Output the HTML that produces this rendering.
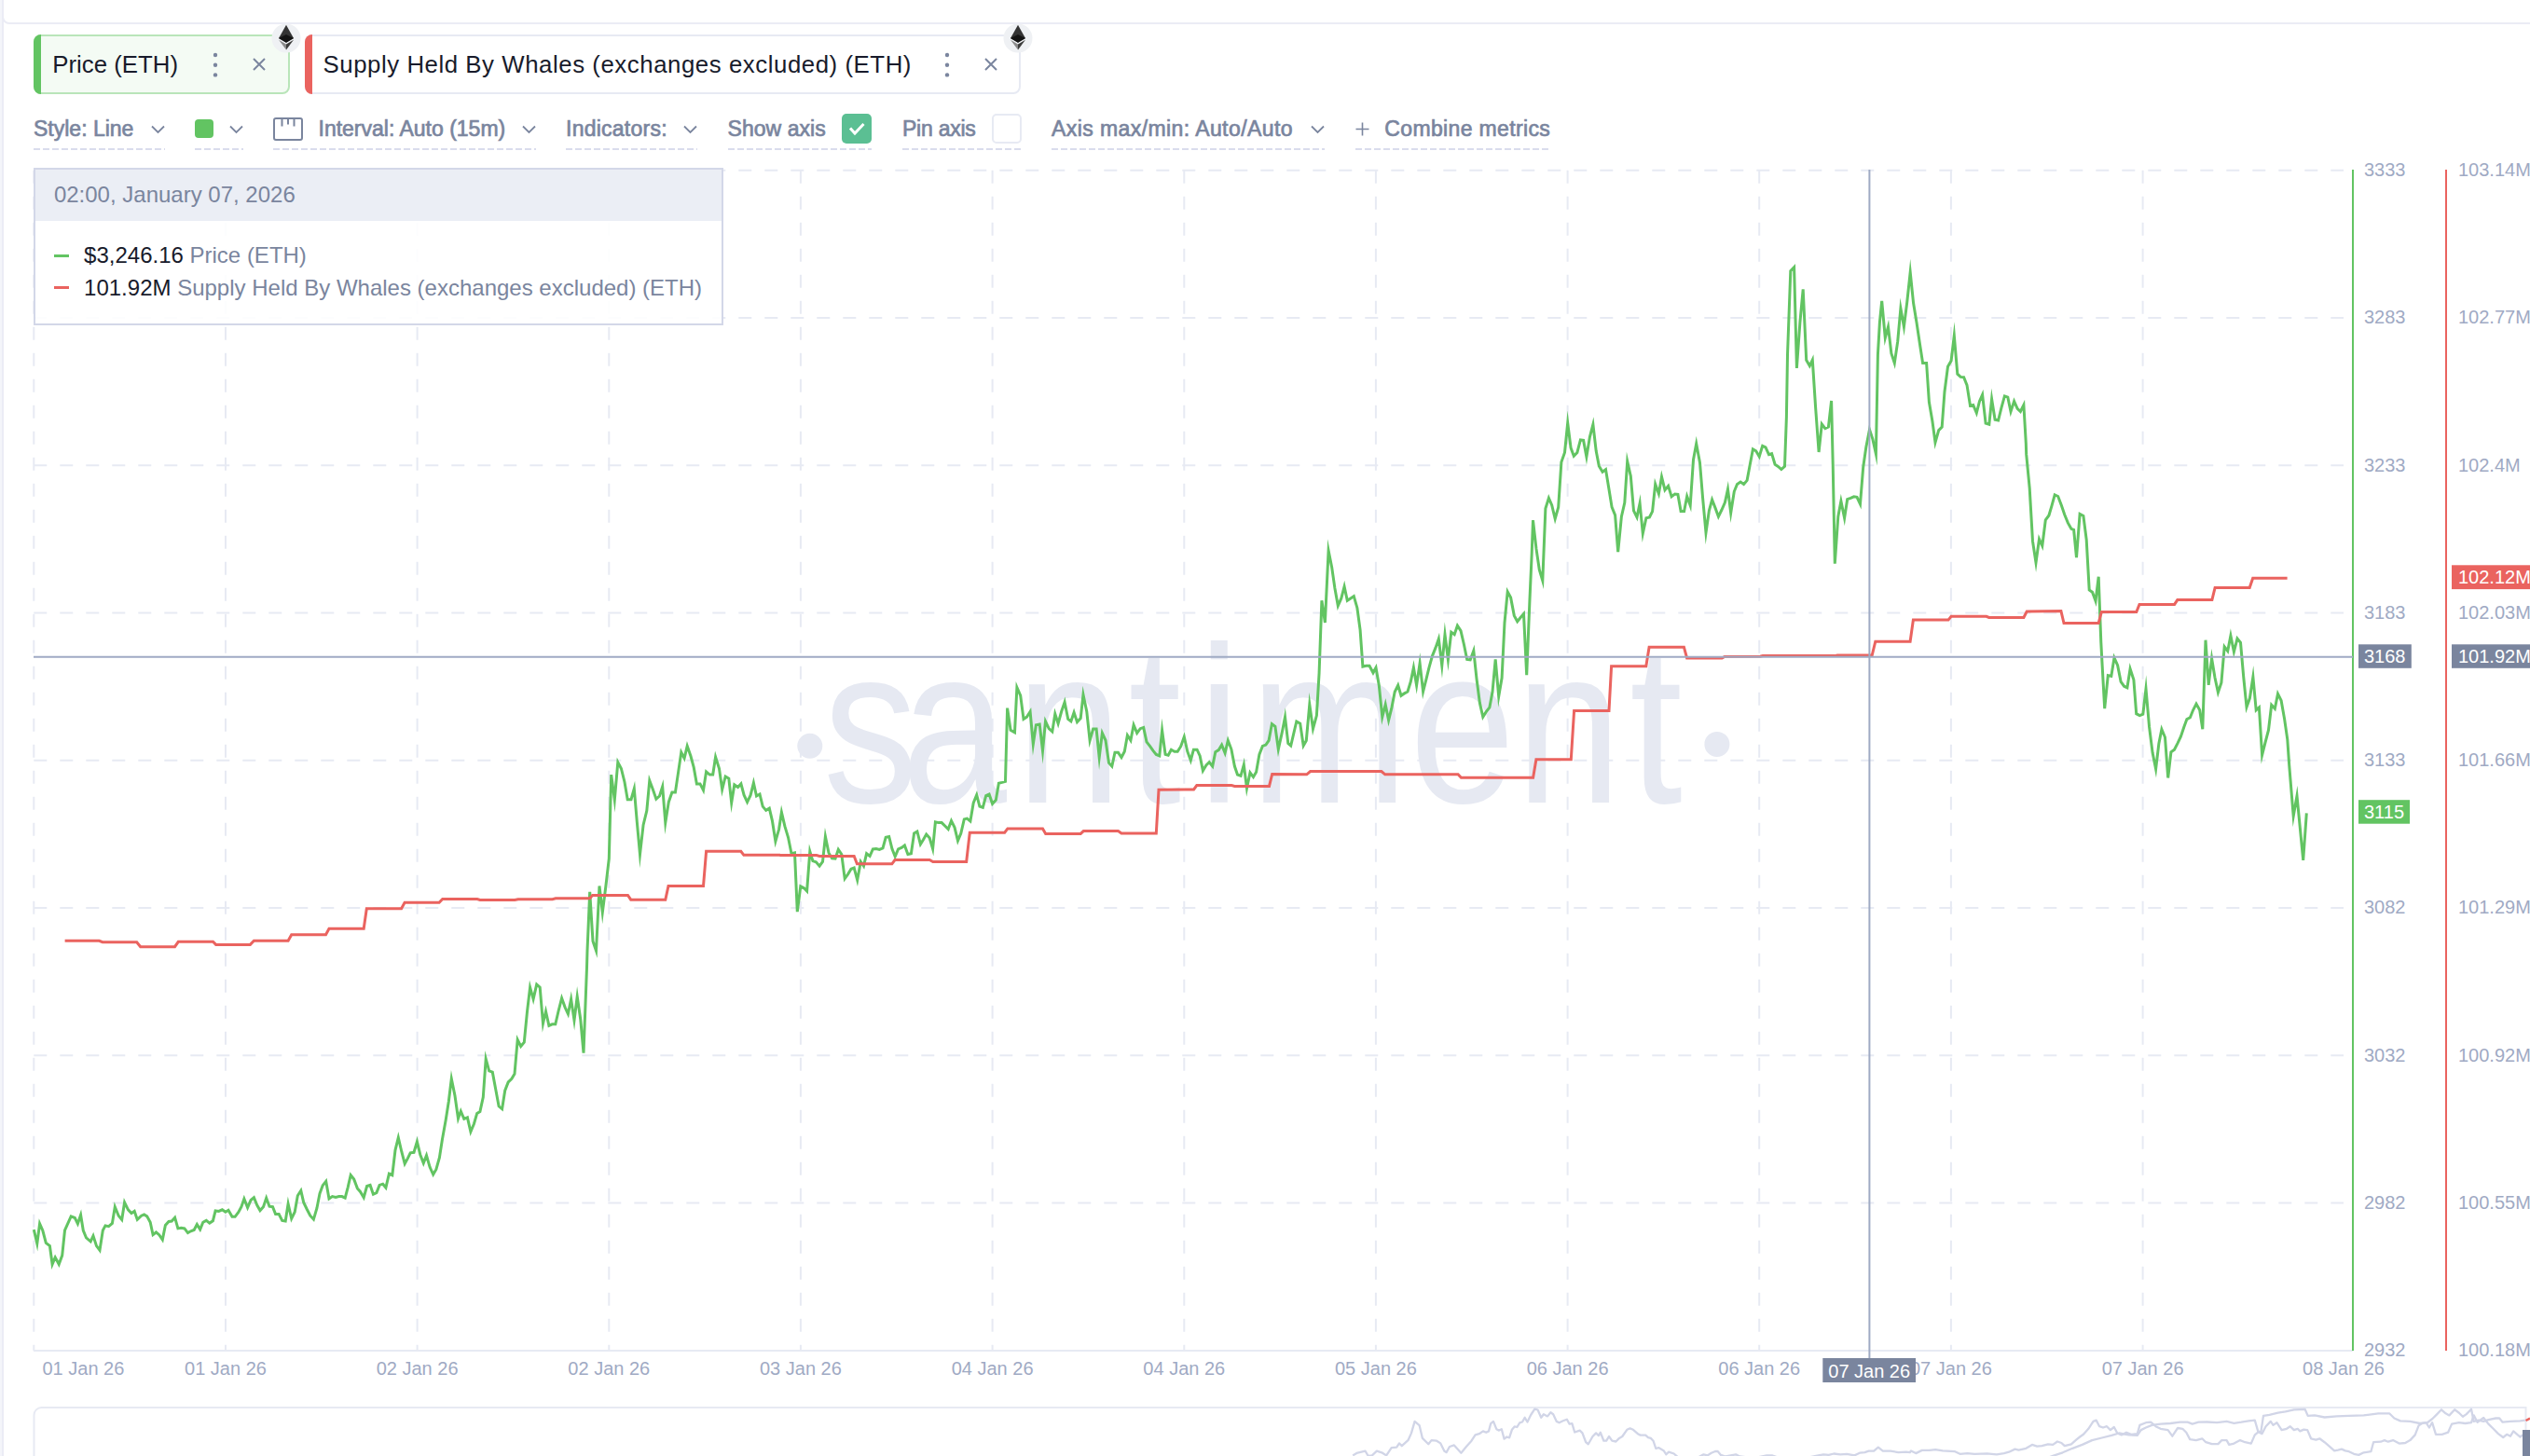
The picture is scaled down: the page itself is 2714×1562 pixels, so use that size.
<!DOCTYPE html>
<html lang="en"><head><meta charset="utf-8"><title>Santiment chart</title>
<style>
html,body{margin:0;padding:0;background:#fff}
body{width:2714px;height:1562px;position:relative;overflow:hidden;font-family:"Liberation Sans",sans-serif}
.abs{position:absolute}
.strip{left:0;top:0;width:2px;height:1562px;background:#f4f5fa}
.vline{left:2px;top:0;width:2px;height:1562px;background:#ebecf5}
.topbox{left:2px;top:-20px;width:2800px;height:42px;border:2px solid #ebecf5;border-bottom-left-radius:8px;background:#fff}
.chip{top:37px;height:60px;border:2px solid #e7eaf3;border-radius:8px;background:#fff}
.chip .bar{position:absolute;left:-2px;top:-2px;bottom:-2px;width:8px;border-radius:8px 0 0 8px}
.chip .t{position:absolute;top:14px;font-size:25.8px;line-height:32px;color:#181b2b;white-space:nowrap}
.chip .dots{position:absolute;top:17.3px}
.chip .x{position:absolute;top:22.6px}
.eth{position:absolute;top:24.8px}.eth svg,.dots svg,.x svg,.chev svg{display:block}
.tb{position:absolute;top:120px;height:41.2px;color:#7a859e;font-size:23px;line-height:36px;white-space:nowrap;-webkit-text-stroke:0.7px #7a859e;
 background-image:repeating-linear-gradient(90deg,#d9dced 0,#d9dced 6.6px,transparent 6.6px,transparent 10px);background-size:100% 2px;background-repeat:no-repeat;background-position:0 100%}
.tb span{position:absolute;top:0}
.tb .chev{position:absolute;top:14px}
.tb .cb{position:absolute;top:2.2px;width:32px;height:32px;border-radius:5px;box-sizing:border-box}
.tip{left:36.4px;top:179.7px;width:735.8px;height:165.6px;border:2px solid #d3d7e8;background:rgba(255,255,255,0.88)}
.tip .h{position:absolute;left:0;top:0;right:0;height:55.8px;background:#ebeef5;color:#7a859e;font-size:24px;line-height:55px}
.tip .h span{position:absolute;left:19.5px;top:-1px}
.tip .r{position:absolute;left:51.7px;font-size:24px;line-height:30px;color:#7a859e;white-space:nowrap}
.tip .r b{font-weight:normal;color:#181b2b}
.tip .m{position:absolute;left:19.5px;width:16.5px;height:3.4px}
</style></head><body>
<div class="abs strip"></div>
<div class="abs topbox"></div>
<div class="abs vline"></div>
<svg id="chart" width="2714" height="1562" viewBox="0 0 2714 1562" style="position:absolute;left:0;top:0" font-family="Liberation Sans, sans-serif">
<g stroke="#e7eaf3" stroke-width="2" stroke-dasharray="14 14" fill="none">
<line x1="36.3" y1="182.8" x2="2514" y2="182.8"/>
<line x1="36.3" y1="341.1" x2="2514" y2="341.1"/>
<line x1="36.3" y1="499.3" x2="2514" y2="499.3"/>
<line x1="36.3" y1="657.5" x2="2514" y2="657.5"/>
<line x1="36.3" y1="815.8" x2="2514" y2="815.8"/>
<line x1="36.3" y1="974.0" x2="2514" y2="974.0"/>
<line x1="36.3" y1="1132.3" x2="2514" y2="1132.3"/>
<line x1="36.3" y1="1290.5" x2="2514" y2="1290.5"/>
<line x1="36.3" y1="182.8" x2="36.3" y2="1449"/>
<line x1="242.0" y1="182.8" x2="242.0" y2="1449"/>
<line x1="447.6" y1="182.8" x2="447.6" y2="1449"/>
<line x1="653.3" y1="182.8" x2="653.3" y2="1449"/>
<line x1="858.9" y1="182.8" x2="858.9" y2="1449"/>
<line x1="1064.6" y1="182.8" x2="1064.6" y2="1449"/>
<line x1="1270.3" y1="182.8" x2="1270.3" y2="1449"/>
<line x1="1475.9" y1="182.8" x2="1475.9" y2="1449"/>
<line x1="1681.6" y1="182.8" x2="1681.6" y2="1449"/>
<line x1="1887.2" y1="182.8" x2="1887.2" y2="1449"/>
<line x1="2092.9" y1="182.8" x2="2092.9" y2="1449"/>
<line x1="2298.6" y1="182.8" x2="2298.6" y2="1449"/>
</g>
<line x1="36" y1="1449" x2="2524" y2="1449" stroke="#e7eaf3" stroke-width="2"/>
<g fill="#e6e9f2">
<circle cx="868.8" cy="800.3" r="13.5"/><circle cx="1841.9" cy="798.4" r="13.5"/>
<text transform="scale(0.85,1)" x="1038.7 1137.8 1282.7 1424.0 1512.1 1577.8 1779.1 1913.2 2056.7" y="861" font-size="239">santiment</text>
</g>
<polyline points="36.3,1319.2 39.8,1334.2 42.6,1312.8 45.8,1320.0 49.3,1333.4 53.4,1336.6 56.1,1356.3 59.2,1348.9 63.2,1356.3 66.7,1346.8 69.5,1320.0 76.2,1304.9 80.3,1306.5 83.4,1312.8 86.6,1303.4 89.3,1320.0 92.5,1327.9 97.2,1331.8 100.0,1325.8 103.5,1336.6 107.0,1341.3 110.3,1320.0 113.0,1314.9 116.6,1315.7 120.4,1312.5 123.3,1294.7 127.2,1304.2 130.7,1308.4 133.6,1289.9 137.5,1297.8 141.0,1301.5 144.2,1299.4 147.3,1308.4 151.7,1304.2 154.6,1303.0 157.7,1304.9 161.2,1311.3 164.1,1324.7 167.5,1322.0 170.7,1324.7 174.3,1329.9 177.4,1314.4 181.0,1310.5 184.2,1310.0 187.6,1306.2 190.9,1317.9 194.4,1317.3 197.9,1317.9 201.5,1322.6 204.7,1320.8 208.2,1319.5 211.3,1313.6 214.7,1318.9 217.8,1311.3 221.3,1309.4 224.8,1312.1 228.4,1309.7 231.1,1298.9 234.7,1299.4 238.4,1297.8 241.9,1300.2 245.0,1298.3 249.0,1305.3 252.1,1305.3 255.8,1300.5 258.9,1294.7 261.9,1286.0 265.6,1295.5 269.1,1287.5 272.4,1284.7 275.8,1293.1 279.0,1298.6 282.5,1294.7 285.7,1285.2 289.0,1294.2 292.5,1294.7 295.6,1302.6 299.2,1302.6 302.7,1309.4 306.2,1310.0 309.1,1291.5 312.7,1307.3 316.2,1300.2 319.3,1282.8 322.8,1277.3 325.7,1289.9 329.1,1297.0 332.8,1304.2 336.4,1308.1 339.9,1296.2 343.0,1280.4 346.2,1271.7 349.7,1267.3 353.0,1286.0 356.5,1283.6 360.1,1284.4 363.6,1283.6 366.8,1283.6 370.2,1285.2 373.1,1274.1 376.2,1260.7 379.7,1265.1 383.4,1274.9 386.5,1278.4 390.2,1284.7 393.6,1272.5 397.1,1271.4 400.4,1281.2 403.9,1279.6 407.1,1271.4 410.7,1270.2 413.9,1274.1 417.4,1259.1 420.8,1260.7 424.0,1233.8 427.3,1220.4 430.8,1235.5 434.2,1248.5 437.4,1242.6 440.2,1236.8 444.0,1236.3 447.4,1224.8 450.8,1238.7 454.3,1247.9 457.5,1239.5 461.1,1252.1 464.7,1260.0 467.9,1254.5 471.4,1241.9 474.5,1222.1 478.2,1201.5 481.3,1181.8 484.3,1157.3 488.0,1175.5 491.5,1200.0 494.3,1192.1 497.8,1200.4 501.4,1198.9 504.9,1214.2 508.5,1205.5 511.7,1194.4 514.9,1192.5 518.3,1177.0 521.2,1135.9 524.7,1148.9 528.3,1150.2 531.8,1169.1 535.1,1186.8 538.6,1189.7 541.7,1169.9 545.2,1160.9 548.9,1157.3 552.0,1152.1 555.2,1115.4 558.7,1122.5 562.3,1118.2 565.5,1085.3 568.6,1059.2 572.1,1071.9 575.7,1056.1 579.2,1059.2 582.5,1098.0 585.5,1085.0 588.9,1100.4 592.3,1098.8 595.8,1098.8 599.1,1084.5 602.6,1070.8 606.1,1080.6 609.4,1087.7 612.6,1071.9 616.0,1094.5 619.2,1069.2 622.7,1093.2 626.0,1129.6 629.5,1037.9 630.0,1020.0 632.7,956.8 636.0,1009.8 639.5,1020.0 643.0,950.5 646.3,978.9 649.8,951.3 653.3,921.2 655.7,831.1 659.3,858.0 662.8,817.7 666.4,824.5 670.0,839.0 673.2,857.7 677.0,857.7 680.3,846.1 683.3,881.7 686.5,916.5 690.1,884.9 693.8,869.8 696.8,837.4 700.4,846.9 703.9,857.2 707.5,854.0 710.7,843.8 713.8,882.5 717.3,860.4 720.9,850.1 724.4,850.1 727.7,827.9 730.8,807.1 734.1,813.4 737.2,800.3 741.0,811.3 744.2,823.2 747.4,840.9 751.0,840.9 754.5,847.7 757.6,827.9 761.3,831.1 764.7,831.1 767.6,812.1 771.5,824.5 774.7,846.9 778.2,833.0 781.8,835.1 784.7,861.1 787.8,841.9 791.6,844.5 794.9,840.9 798.1,852.9 801.6,860.4 805.1,853.2 808.4,839.8 811.5,854.0 815.0,852.0 818.2,865.1 821.7,869.4 825.3,867.2 828.5,880.9 831.9,902.6 835.6,889.6 838.4,871.4 841.9,886.4 845.5,898.3 849.0,915.7 852.5,914.9 855.3,978.1 858.8,950.9 862.5,952.8 865.6,956.0 868.8,913.3 871.9,923.6 875.4,924.7 879.1,929.1 882.5,924.4 885.4,897.5 889.0,914.9 892.5,920.9 896.0,921.2 899.3,911.4 902.8,916.5 906.2,942.6 909.6,937.8 913.0,932.3 916.2,931.0 919.7,944.2 923.3,924.4 926.5,929.1 929.6,915.7 933.1,918.4 936.4,910.9 939.9,910.5 943.4,911.4 947.0,909.8 950.2,898.3 953.7,897.5 957.0,910.9 960.2,918.9 963.6,910.9 967.1,909.4 970.4,907.0 973.9,916.5 977.4,915.7 980.6,894.0 983.9,892.0 987.4,905.7 990.5,900.7 993.7,895.1 997.2,899.1 1000.6,910.6 1003.4,881.8 1006.9,882.6 1010.2,882.6 1013.7,886.0 1017.2,889.5 1020.5,880.5 1024.0,887.6 1027.5,901.9 1030.8,894.0 1034.3,878.9 1037.4,878.1 1040.9,881.0 1044.2,861.5 1047.7,852.8 1050.9,865.2 1054.3,866.3 1057.7,853.6 1061.1,852.1 1064.6,862.3 1068.3,858.4 1071.4,840.2 1074.9,839.4 1078.5,838.3 1080.6,759.6 1084.1,783.3 1088.5,785.7 1090.9,737.4 1094.7,746.1 1098.0,771.4 1101.5,769.1 1105.1,763.5 1108.3,798.3 1111.4,777.7 1115.2,777.0 1118.5,805.4 1121.5,773.8 1125.2,781.7 1128.8,784.9 1131.8,765.9 1135.1,776.2 1138.6,763.5 1142.1,753.2 1145.7,771.4 1148.9,773.8 1152.1,764.3 1155.5,774.6 1159.2,770.6 1162.0,745.3 1165.8,763.5 1169.1,794.3 1172.6,782.0 1176.1,782.0 1179.2,812.5 1182.4,786.4 1186.0,794.3 1189.5,818.4 1192.8,822.0 1196.0,807.3 1199.5,807.3 1203.0,812.5 1206.3,806.2 1209.4,788.8 1212.9,794.3 1216.1,777.7 1219.7,786.4 1223.2,781.7 1226.7,780.4 1230.0,795.9 1233.5,800.4 1237.0,805.4 1240.3,809.4 1243.8,810.9 1246.6,783.3 1250.1,809.4 1253.2,810.2 1256.4,804.2 1259.9,806.2 1263.2,806.2 1266.7,800.7 1270.3,790.4 1273.8,806.2 1277.3,815.7 1280.4,804.2 1284.1,804.2 1287.2,810.9 1290.4,826.8 1293.9,820.9 1297.2,817.7 1300.7,822.0 1303.8,806.7 1307.3,804.6 1310.6,799.1 1314.1,807.8 1317.3,794.3 1320.9,803.8 1324.4,822.0 1327.5,831.0 1331.0,832.3 1334.3,820.4 1337.5,845.7 1341.0,828.8 1344.5,833.6 1347.6,828.3 1350.9,809.4 1354.4,800.4 1357.9,799.1 1361.1,794.3 1364.4,776.6 1367.9,779.3 1371.3,803.8 1375.0,787.2 1378.5,769.1 1381.8,797.5 1384.7,800.0 1390.8,774.0 1394.7,776.3 1398.2,800.0 1401.3,794.5 1404.8,755.8 1408.5,781.9 1412.4,767.6 1415.1,721.8 1417.9,644.3 1421.4,668.0 1425.1,590.6 1428.7,608.7 1431.9,630.9 1435.3,649.8 1438.8,641.9 1442.1,629.3 1445.3,644.3 1448.8,641.9 1452.3,639.6 1455.9,652.2 1459.1,675.9 1461.9,715.1 1465.4,714.2 1469.0,714.2 1473.0,721.8 1476.0,716.2 1479.3,735.2 1482.8,769.2 1486.2,755.8 1489.6,772.7 1493.0,758.9 1496.2,742.3 1499.7,735.2 1503.0,746.3 1506.5,743.9 1510.0,742.0 1513.3,731.3 1516.4,716.2 1519.6,735.2 1523.1,711.5 1526.6,742.0 1529.9,728.9 1533.0,716.2 1536.5,703.6 1540.0,694.9 1543.3,685.4 1546.8,713.9 1550.0,680.7 1553.4,707.5 1556.8,678.3 1560.2,680.7 1563.4,671.2 1567.0,676.7 1570.5,691.7 1573.7,707.5 1577.2,707.9 1580.8,698.1 1584.0,728.1 1587.4,754.2 1590.8,769.2 1594.2,763.7 1597.9,758.9 1601.0,742.3 1604.2,707.5 1607.7,747.1 1611.1,727.3 1614.0,668.0 1617.2,634.8 1620.6,641.1 1624.3,660.4 1627.7,666.8 1631.1,662.5 1634.5,658.5 1637.7,724.2 1640.9,645.1 1643.2,593.7 1644.5,558.1 1648.0,588.9 1651.3,611.1 1654.8,622.9 1657.9,545.5 1661.4,534.4 1664.7,542.0 1668.2,556.5 1671.7,544.2 1674.9,495.7 1678.5,485.4 1681.7,453.8 1685.1,480.6 1688.3,489.3 1691.9,485.4 1695.4,471.9 1698.6,472.4 1701.9,490.1 1705.4,468.8 1708.9,455.3 1712.2,483.8 1715.3,499.9 1719.1,506.2 1722.5,503.6 1725.6,522.5 1729.1,544.2 1732.6,552.6 1735.7,592.1 1739.4,554.2 1742.8,539.4 1745.7,494.9 1749.3,510.7 1752.5,547.8 1756.0,554.9 1759.1,539.9 1762.3,572.3 1765.9,555.7 1769.4,554.9 1772.6,548.6 1775.7,519.4 1779.4,529.6 1782.5,511.5 1786.0,525.7 1789.6,521.4 1793.1,532.8 1796.6,530.0 1799.9,530.4 1803.1,548.6 1806.6,548.6 1809.7,532.5 1813.2,542.3 1816.5,493.3 1819.7,475.9 1823.5,496.4 1826.6,534.4 1830.0,571.5 1833.4,547.8 1836.6,536.0 1840.1,545.1 1843.4,554.2 1846.9,547.0 1850.4,539.1 1853.5,524.9 1856.7,550.2 1860.3,527.3 1863.5,519.4 1867.1,517.0 1870.6,519.4 1874.1,515.4 1877.2,498.8 1880.4,481.9 1883.7,483.8 1887.2,489.8 1890.7,478.3 1894.0,479.8 1897.5,487.7 1900.6,486.6 1904.1,498.3 1907.4,500.4 1910.9,503.6 1914.5,500.4 1916.4,447.4 1917.5,380.7 1920.8,290.6 1924.6,286.6 1927.4,394.9 1930.9,345.9 1934.2,310.3 1937.7,386.2 1941.3,392.5 1944.3,386.2 1947.7,438.4 1951.1,485.0 1954.3,455.0 1957.9,459.7 1961.4,458.1 1964.6,430.0 1966.2,498.0 1968.3,604.7 1971.8,554.2 1974.9,537.5 1978.6,555.7 1981.7,535.7 1985.2,534.4 1988.7,532.8 1992.0,533.3 1995.5,540.7 1998.7,501.2 2001.8,479.8 2005.5,460.9 2008.9,471.1 2012.4,487.0 2014.4,380.7 2016.4,345.9 2018.7,323.0 2022.3,362.5 2025.5,350.6 2028.9,379.1 2032.3,389.4 2035.7,366.4 2038.9,330.9 2042.4,350.6 2045.7,324.5 2049.2,292.1 2052.6,325.3 2056.0,345.9 2059.4,368.8 2062.6,389.4 2066.6,389.4 2069.4,431.3 2072.9,451.8 2076.0,474.7 2079.7,461.6 2083.2,458.1 2086.0,420.2 2089.5,393.3 2093.1,387.0 2096.3,360.1 2099.8,401.2 2103.2,404.4 2106.6,404.7 2110.0,413.1 2113.5,435.2 2116.7,434.4 2120.3,443.1 2123.5,430.5 2126.6,423.4 2130.1,454.2 2133.8,455.3 2136.6,428.1 2140.1,450.2 2143.6,451.0 2146.9,437.6 2150.4,424.9 2153.8,426.2 2157.0,441.5 2160.6,430.5 2164.1,438.4 2167.4,441.5 2170.9,434.4 2173.3,475.5 2173.7,487.4 2177.2,523.8 2180.5,580.7 2184.0,603.6 2187.5,578.3 2190.8,585.5 2194.3,557.8 2197.9,553.0 2200.9,542.8 2204.2,530.9 2207.7,532.5 2211.3,542.0 2214.8,552.3 2218.3,560.9 2221.9,567.3 2224.6,568.4 2227.5,598.1 2231.1,551.5 2234.9,553.5 2238.2,579.1 2241.2,632.9 2244.5,635.3 2248.0,644.7 2251.2,618.7 2253.8,689.1 2254.9,709.6 2257.7,760.2 2261.3,724.6 2264.8,725.4 2268.0,705.7 2271.6,713.6 2275.1,731.4 2278.6,736.2 2281.9,737.7 2285.1,717.5 2288.9,729.4 2291.7,765.7 2295.3,767.6 2298.8,766.2 2302.0,738.9 2305.6,780.0 2309.1,807.6 2312.6,825.0 2315.9,797.4 2318.9,782.3 2322.5,791.0 2325.7,834.5 2328.9,806.8 2332.5,804.2 2336.0,797.4 2339.4,790.2 2342.8,780.0 2345.9,771.6 2349.4,769.7 2352.6,761.8 2356.0,755.1 2359.7,761.8 2362.8,782.3 2366.0,686.7 2369.2,734.9 2372.6,706.4 2376.0,727.0 2379.4,742.8 2382.9,732.5 2386.2,693.8 2389.7,698.5 2392.9,681.9 2396.4,699.3 2400.0,685.1 2403.5,689.4 2406.8,727.0 2410.0,758.6 2413.4,749.1 2416.9,726.2 2420.2,761.8 2423.4,758.9 2426.6,810.0 2430.0,796.6 2433.5,783.1 2436.7,756.2 2440.3,760.2 2443.5,744.4 2447.1,751.5 2450.6,771.3 2453.8,793.4 2455.7,820.9 2460.2,875.5 2464.0,853.9 2470.7,922.9 2474.3,872.4" fill="none" stroke="#62c462" stroke-width="3" stroke-linejoin="miter" stroke-miterlimit="10"/>
<polyline points="69.6,1009.3 106.4,1009.3 110.0,1010.7 146.7,1010.7 150.7,1015.7 187.5,1015.7 191.3,1010.3 228.5,1010.3 231.6,1013.4 268.4,1013.4 272.4,1009.3 309.1,1009.3 312.7,1002.7 349.5,1002.7 353.0,996.3 390.2,996.3 393.3,974.7 430.6,974.7 434.1,968.3 471.1,968.3 474.7,964.5 511.9,964.5 515.0,965.4 552.2,965.4 555.8,964.7 592.5,964.7 596.1,963.8 632.8,963.8 635.6,960.4 673.5,960.4 676.7,965.2 713.8,965.2 717.0,950.5 754.5,950.5 757.6,913.3 794.8,913.3 797.9,917.3 836.4,917.3 837.2,917.6 875.9,917.6 879.1,918.4 916.2,918.4 919.4,926.8 956.8,926.8 960.0,922.5 997.2,922.5 1000.8,924.5 1036.7,924.5 1040.3,893.2 1077.7,893.2 1080.9,888.9 1118.5,888.9 1121.7,894.4 1159.2,894.4 1162.3,891.6 1199.5,891.6 1203.0,894.0 1240.3,894.0 1243.0,847.3 1280.6,847.0 1283.8,842.6 1321.2,842.6 1324.4,843.4 1361.5,843.4 1364.7,830.4 1401.8,830.8 1405.6,827.5 1481.9,827.5 1485.8,830.8 1564.1,830.8 1567.4,834.3 1644.6,834.3 1647.9,814.7 1685.3,814.7 1688.6,762.4 1726.0,762.4 1728.6,714.7 1765.8,714.7 1769.1,694.2 1806.4,694.2 1809.6,706.0 1847.3,706.0 1850.0,704.5 1888.2,704.2 1890.9,703.6 1968.2,703.6 1970.9,703.1 2008.2,703.1 2011.8,688.2 2049.1,688.2 2052.4,665.1 2090.0,665.1 2093.1,661.3 2130.9,661.3 2133.6,662.4 2170.9,662.4 2174.2,656.0 2210.9,655.5 2214.0,668.5 2251.2,668.5 2254.3,656.6 2291.8,656.6 2295.0,648.4 2332.6,648.4 2335.8,643.6 2372.9,643.6 2376.1,630.5 2413.2,630.5 2416.7,620.2 2453.6,620.2" fill="none" stroke="#ea635f" stroke-width="3" stroke-linejoin="miter" stroke-miterlimit="10"/>
<line x1="2524" y1="182" x2="2524" y2="1449" stroke="#62c462" stroke-width="2"/>
<line x1="2624" y1="182" x2="2624" y2="1449" stroke="#ea635f" stroke-width="2"/>
<g fill="#9faac4" font-size="20">
<text x="2536" y="189.1">3333</text><text x="2637" y="189.1">103.14M</text>
<text x="2536" y="347.4">3283</text><text x="2637" y="347.4">102.77M</text>
<text x="2536" y="505.6">3233</text><text x="2637" y="505.6">102.4M</text>
<text x="2536" y="663.8">3183</text><text x="2637" y="663.8">102.03M</text>
<text x="2536" y="822.1">3133</text><text x="2637" y="822.1">101.66M</text>
<text x="2536" y="980.3">3082</text><text x="2637" y="980.3">101.29M</text>
<text x="2536" y="1138.6">3032</text><text x="2637" y="1138.6">100.92M</text>
<text x="2536" y="1296.8">2982</text><text x="2637" y="1296.8">100.55M</text>
<text x="2536" y="1455.1">2932</text><text x="2637" y="1455.1">100.18M</text>
<text x="45.5" y="1474.6">01 Jan 26</text>
<text x="242.0" y="1474.6" text-anchor="middle">01 Jan 26</text>
<text x="447.6" y="1474.6" text-anchor="middle">02 Jan 26</text>
<text x="653.3" y="1474.6" text-anchor="middle">02 Jan 26</text>
<text x="858.9" y="1474.6" text-anchor="middle">03 Jan 26</text>
<text x="1064.6" y="1474.6" text-anchor="middle">04 Jan 26</text>
<text x="1270.3" y="1474.6" text-anchor="middle">04 Jan 26</text>
<text x="1475.9" y="1474.6" text-anchor="middle">05 Jan 26</text>
<text x="1681.6" y="1474.6" text-anchor="middle">06 Jan 26</text>
<text x="1887.2" y="1474.6" text-anchor="middle">06 Jan 26</text>
<text x="2092.9" y="1474.6" text-anchor="middle">07 Jan 26</text>
<text x="2298.6" y="1474.6" text-anchor="middle">07 Jan 26</text>
<text x="2514" y="1474.6" text-anchor="middle">08 Jan 26</text>
</g>
<line x1="36" y1="704.7" x2="2524" y2="704.7" stroke="#9faac4" stroke-width="2"/>
<line x1="2005.4" y1="182" x2="2005.4" y2="1458" stroke="#9faac4" stroke-width="2"/>
<rect x="2630" y="606.3" width="90" height="25.8" fill="#ea635f"/><text x="2637" y="625.9" fill="#fff" font-size="20">102.12M</text>
<rect x="2530" y="691.3" width="56.8" height="25.5" fill="#7a859e"/><text x="2536" y="710.8" fill="#fff" font-size="20">3168</text>
<rect x="2630" y="691.3" width="90" height="25.5" fill="#7a859e"/><text x="2637" y="710.8" fill="#fff" font-size="20">101.92M</text>
<rect x="2530" y="858.2" width="55" height="25.5" fill="#62c462"/><text x="2536" y="877.7" fill="#fff" font-size="20">3115</text>
<rect x="1955.3" y="1457" width="99.7" height="26" fill="#7a859e"/><text x="2005.2" y="1477.5" fill="#fff" font-size="20" text-anchor="middle">07 Jan 26</text>
<path d="M36.5 1570 V1518 a8 8 0 0 1 8 -8 H2709.5 V1570" fill="none" stroke="#e7eaf3" stroke-width="2"/>
<polyline points="1451.2,1561.4 1455.3,1558.9 1464.5,1556.7 1467.8,1562.0 1471.9,1561.4 1476.9,1556.7 1483.0,1558.7 1487.2,1561.4 1492.7,1553.1 1498.2,1552.6 1501.0,1548.4 1503.8,1551.2 1510.7,1544.8 1514.0,1537.4 1517.6,1524.9 1522.6,1529.1 1525.9,1542.9 1532.3,1549.3 1535.6,1545.1 1541.1,1545.7 1545.3,1548.4 1549.4,1556.7 1551.6,1558.1 1555.0,1552.0 1559.9,1550.4 1567.4,1558.7 1572.9,1552.0 1578.5,1545.7 1582.6,1539.3 1586.8,1538.2 1590.9,1535.4 1594.2,1536.8 1597.0,1535.4 1599.2,1527.1 1602.0,1524.9 1605.3,1533.2 1608.1,1534.6 1610.8,1533.2 1613.6,1543.7 1616.4,1541.5 1619.1,1542.3 1621.9,1533.8 1624.7,1530.4 1627.4,1531.0 1630.2,1526.3 1633.0,1525.5 1635.7,1520.8 1638.5,1525.5 1642.1,1518.0 1646.3,1511.6 1649.6,1512.5 1653.2,1520.8 1655.9,1517.2 1660.1,1519.4 1663.4,1515.2 1666.2,1517.2 1669.8,1524.9 1672.6,1526.3 1676.7,1524.3 1680.9,1522.7 1683.6,1527.7 1686.4,1527.1 1689.2,1536.5 1694.7,1534.6 1697.5,1537.4 1701.1,1547.0 1703.8,1549.3 1708.5,1541.0 1712.1,1537.4 1714.9,1540.1 1716.8,1536.8 1720.4,1545.7 1723.2,1545.7 1726.0,1541.0 1729.3,1545.7 1733.4,1546.5 1737.0,1542.9 1740.3,1541.0 1745.3,1533.8 1748.6,1532.4 1752.0,1533.8 1756.9,1538.2 1759.7,1539.6 1765.2,1539.6 1768.0,1542.1 1770.8,1542.9 1773.5,1545.7 1776.3,1554.0 1779.1,1553.1 1784.6,1556.2 1787.4,1560.3 1790.1,1557.6 1795.7,1559.5 1799.8,1563.1 1812.3,1566.4 1823.4,1562.5 1827.5,1560.3 1831.7,1561.4 1835.8,1558.7 1840.0,1557.0 1842.7,1557.0 1846.0,1560.9 1851.0,1562.5 1856.6,1561.4 1862.1,1560.3 1866.2,1562.5 1881.5,1564.2 1895.3,1561.4 1900.8,1561.4 1909.1,1564.2 1936.8,1564.2 1950.6,1561.4 1956.2,1560.3 1961.7,1560.9 1967.2,1559.5 1974.2,1560.3 1981.1,1559.8 1989.4,1561.4 1994.9,1558.7 2000.4,1558.1 2004.6,1556.7 2010.1,1556.7 2014.8,1552.6 2019.8,1556.7 2028.1,1556.7 2036.4,1558.1 2044.7,1557.6 2048.9,1558.1 2050.0,1556.4 2055.2,1559.1 2061.8,1555.9 2069.7,1555.9 2076.2,1555.1 2084.1,1556.4 2097.2,1557.2 2102.5,1559.8 2110.4,1559.1 2118.2,1559.8 2131.4,1559.3 2141.9,1560.4 2149.7,1559.1 2155.0,1557.7 2161.5,1554.6 2165.5,1555.6 2173.4,1553.8 2179.9,1549.9 2185.2,1551.7 2190.4,1551.2 2197.0,1549.3 2202.2,1549.9 2207.0,1546.5 2211.4,1548.0 2214.8,1551.2 2221.9,1549.3 2227.2,1544.6 2231.1,1541.5 2235.0,1538.8 2240.3,1532.8 2245.5,1524.9 2248.7,1523.6 2252.1,1530.2 2256.0,1531.5 2260.0,1530.2 2263.9,1534.1 2267.8,1531.0 2271.3,1537.5 2275.7,1539.4 2281.0,1536.7 2286.2,1538.8 2292.8,1538.1 2295.4,1528.9 2302.0,1526.2 2307.2,1525.7 2312.5,1530.2 2317.7,1532.8 2325.6,1534.1 2330.3,1540.7 2336.1,1532.0 2341.3,1532.8 2345.3,1536.7 2349.2,1544.1 2355.8,1545.1 2362.3,1543.3 2366.3,1547.2 2372.8,1549.1 2379.4,1549.1 2383.3,1545.1 2388.6,1545.1 2391.2,1549.9 2396.5,1548.6 2403.0,1545.1 2408.3,1547.2 2414.8,1548.6 2418.8,1539.4 2422.7,1536.2 2426.6,1538.1 2430.6,1530.2 2435.8,1524.9 2438.5,1528.9 2442.4,1526.2 2447.6,1534.1 2452.9,1532.8 2456.8,1530.2 2460.8,1534.1 2464.7,1532.8 2467.3,1535.4 2471.3,1533.6 2475.2,1534.1 2479.1,1543.3 2484.4,1544.6 2488.3,1543.3 2493.6,1547.2 2498.8,1551.7 2504.1,1556.4 2508.0,1555.6 2511.9,1554.6 2515.9,1556.4 2519.8,1557.2 2525.1,1559.8 2530.3,1560.9 2535.6,1558.3 2543.4,1557.2 2546.1,1547.2 2553.9,1546.7 2557.9,1545.1 2561.8,1546.7 2567.1,1545.1 2573.6,1548.6 2580.2,1548.0 2585.4,1545.1 2590.7,1539.4 2594.6,1529.4 2598.6,1526.8 2602.5,1526.2 2605.9,1531.5 2609.1,1526.2 2613.0,1538.8 2619.6,1538.8 2626.1,1536.7 2630.1,1527.6 2637.9,1526.2 2644.5,1527.0 2651.0,1526.2 2653.7,1518.4 2657.6,1525.7 2664.2,1521.0 2669.4,1527.6 2674.7,1532.8 2679.9,1538.1 2685.2,1542.0 2689.1,1538.8 2693.0,1540.7 2696.2,1535.4 2700.9,1539.4 2703.5,1541.5 2706.2,1539.4" fill="none" stroke="#d1d5e7" stroke-width="2.3" stroke-linejoin="round"/>
<polyline points="2191.7,1565.6 2202.2,1561.9 2212.7,1558.3 2223.2,1553.8 2233.7,1549.9 2244.2,1545.1 2254.7,1542.5 2265.2,1539.9 2273.1,1537.5 2283.6,1539.4 2292.8,1539.9 2296.7,1534.1 2302.0,1531.5 2308.5,1528.9 2317.7,1527.6 2328.2,1527.0 2338.7,1525.7 2346.6,1525.7 2351.8,1527.6 2358.4,1525.7 2367.6,1525.5 2378.1,1526.2 2388.6,1524.9 2396.5,1526.8 2404.3,1525.7 2412.2,1524.4 2418.8,1523.6 2422.2,1535.4 2425.3,1536.7 2428.0,1518.9 2434.5,1517.8 2443.7,1515.7 2451.6,1514.4 2460.8,1512.3 2472.6,1511.8 2475.7,1518.9 2483.1,1518.4 2493.6,1520.5 2506.7,1519.4 2519.8,1518.9 2535.6,1518.4 2551.3,1516.3 2563.1,1516.3 2568.4,1521.5 2574.9,1524.4 2585.4,1524.9 2595.9,1527.0 2603.8,1526.2 2609.1,1522.3 2614.3,1517.1 2619.0,1512.3 2623.5,1516.3 2627.4,1518.4 2633.2,1512.3 2637.9,1515.7 2641.9,1519.7 2645.8,1517.1 2651.0,1511.8 2653.7,1524.9 2658.9,1523.6 2664.2,1524.9 2669.4,1523.1 2677.3,1521.5 2681.2,1521.5 2684.6,1525.7 2693.0,1524.9 2703.5,1524.4 2708.8,1523.6" fill="none" stroke="#d1d5e7" stroke-width="2.3" stroke-linejoin="round"/>
<line x1="2709.5" y1="1524" x2="2714" y2="1521.5" stroke="#ea635f" stroke-width="2.5"/>
<rect x="2706" y="1534" width="8" height="30" fill="#7a859e"/>
</svg>
<div class="abs chip" style="left:36px;width:270.6px;background:#f4fbf4;border-color:#b9e5b9"><div class="bar" style="background:#62c462"></div><div class="t" style="left:18.3px;letter-spacing:0px">Price (ETH)</div><span class="dots" style="left:190px"><svg width="6" height="28" viewBox="0 0 6 28"><circle cx="3" cy="3" r="2.2" fill="#7a859e"/><circle cx="3" cy="13.7" r="2.2" fill="#7a859e"/><circle cx="3" cy="24.4" r="2.2" fill="#7a859e"/></svg></span><span class="x" style="left:232.5px"><svg width="14" height="14" viewBox="0 0 14 14"><path d="M1 1 L13 13 M13 1 L1 13" stroke="#7a859e" stroke-width="2" fill="none"/></svg></span></div>
<div class="abs chip" style="left:327px;width:764px"><div class="bar" style="background:#ea635f"></div><div class="t" style="left:17.5px;letter-spacing:0.55px">Supply Held By Whales (exchanges excluded) (ETH)</div><span class="dots" style="left:683.5px"><svg width="6" height="28" viewBox="0 0 6 28"><circle cx="3" cy="3" r="2.2" fill="#7a859e"/><circle cx="3" cy="13.7" r="2.2" fill="#7a859e"/><circle cx="3" cy="24.4" r="2.2" fill="#7a859e"/></svg></span><span class="x" style="left:726.5px"><svg width="14" height="14" viewBox="0 0 14 14"><path d="M1 1 L13 13 M13 1 L1 13" stroke="#7a859e" stroke-width="2" fill="none"/></svg></span></div>
<span class="eth" style="left:291px"><svg width="32" height="32" viewBox="-16 -16 32 32"><circle r="15.5" fill="#eff1f4"/><polygon points="0,-14.3 8,0 0,4.8 -8,0" fill="#343434"/><polygon points="0,-4 8,0 0,4.8 -8,0" fill="#141414"/><polygon points="-8,1.8 0,6.6 0,12.5" fill="#8c8c8c"/><polygon points="8,1.8 0,6.6 0,12.5" fill="#3c3c3b"/></svg></span>
<span class="eth" style="left:1076px"><svg width="32" height="32" viewBox="-16 -16 32 32"><circle r="15.5" fill="#eff1f4"/><polygon points="0,-14.3 8,0 0,4.8 -8,0" fill="#343434"/><polygon points="0,-4 8,0 0,4.8 -8,0" fill="#141414"/><polygon points="-8,1.8 0,6.6 0,12.5" fill="#8c8c8c"/><polygon points="8,1.8 0,6.6 0,12.5" fill="#3c3c3b"/></svg></span>

<div class="tb" style="left:36px;width:141px"><span style="left:0;letter-spacing:0px">Style: Line</span><span class="chev" style="left:126px"><svg width="15" height="10" viewBox="0 0 15 10"><path d="M1 1.5 L7.5 8 L14 1.5" fill="none" stroke="#7a859e" stroke-width="1.8"/></svg></span></div>
<div class="tb" style="left:209px;width:52px"><span style="left:0;top:8px;width:20px;height:20px;border-radius:4px;background:#62c462"></span><span class="chev" style="left:37px"><svg width="15" height="10" viewBox="0 0 15 10"><path d="M1 1.5 L7.5 8 L14 1.5" fill="none" stroke="#7a859e" stroke-width="1.8"/></svg></span></div>
<div class="tb" style="left:293px;width:282px"><svg style="position:absolute;left:0;top:5.5px" width="32" height="25" viewBox="0 0 32 25"><rect x="1" y="1" width="30" height="23" rx="2" fill="none" stroke="#7a859e" stroke-width="2"/><path d="M9.5 1 V9.5 M16 1 V7.5 M22.5 1 V9.5" stroke="#7a859e" stroke-width="2" fill="none"/></svg><span style="left:48.5px;letter-spacing:0px">Interval: Auto (15m)</span><span class="chev" style="left:266.5px"><svg width="15" height="10" viewBox="0 0 15 10"><path d="M1 1.5 L7.5 8 L14 1.5" fill="none" stroke="#7a859e" stroke-width="1.8"/></svg></span></div>
<div class="tb" style="left:607px;width:141px"><span style="left:0;letter-spacing:0.25px">Indicators:</span><span class="chev" style="left:126px"><svg width="15" height="10" viewBox="0 0 15 10"><path d="M1 1.5 L7.5 8 L14 1.5" fill="none" stroke="#7a859e" stroke-width="1.8"/></svg></span></div>
<div class="tb" style="left:780.5px;width:154px"><span style="left:0;letter-spacing:0.05px">Show axis</span><span class="cb" style="left:122.5px;background:#5bbf93"><svg width="32" height="32" viewBox="0 0 32 32" style="position:absolute;left:0;top:0"><path d="M9 15.5 L14 21 L23.5 11" fill="none" stroke="#fff" stroke-width="3"/></svg></span></div>
<div class="tb" style="left:968px;width:127.5px"><span style="left:0;letter-spacing:-0.25px">Pin axis</span><span class="cb" style="left:96px;background:#fff;border:2px solid #e7eaf3"></span></div>
<div class="tb" style="left:1128px;width:293px"><span style="left:0;letter-spacing:0.42px">Axis max/min: Auto/Auto</span><span class="chev" style="left:278px"><svg width="15" height="10" viewBox="0 0 15 10"><path d="M1 1.5 L7.5 8 L14 1.5" fill="none" stroke="#7a859e" stroke-width="1.8"/></svg></span></div>
<div class="tb" style="left:1454px;width:210px"><svg style="position:absolute;left:0;top:10.5px" width="15" height="15" viewBox="0 0 15 15"><path d="M7.5 0.5 V14.5 M0.5 7.5 H14.5" stroke="#7a859e" stroke-width="1.6"/></svg><span style="left:31.3px;letter-spacing:0.35px">Combine metrics</span></div>

<div class="abs tip"><div class="h"><span>02:00, January 07, 2026</span></div>
<div class="m" style="top:91.4px;background:#62c462"></div><div class="r" style="top:77.8px"><b>$3,246.16</b> Price (ETH)</div>
<div class="m" style="top:125.4px;background:#ea635f"></div><div class="r" style="top:112.1px"><b>101.92M</b> Supply Held By Whales (exchanges excluded) (ETH)</div>
</div>
</body></html>
